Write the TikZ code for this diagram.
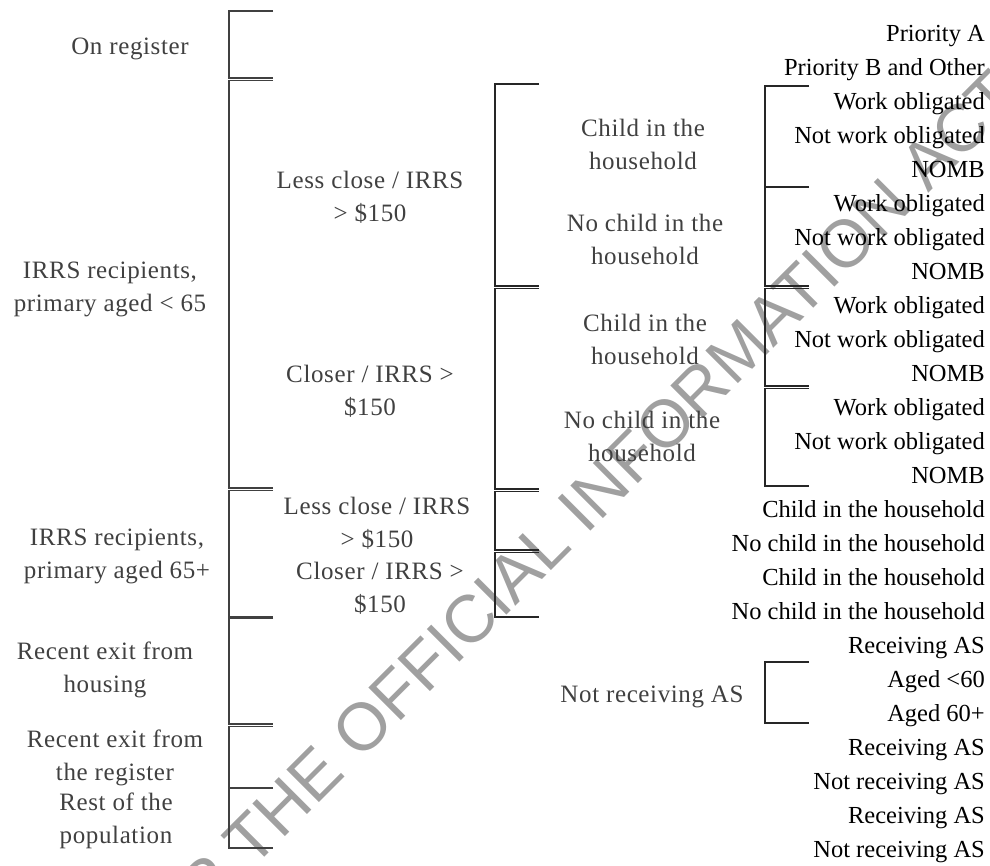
\documentclass[tikz,border=0pt]{standalone}
\usepackage{fontspec}
\setmainfont{Liberation Serif}
\newfontfamily\wmfont{Liberation Sans}
\definecolor{lblgray}{HTML}{404040}
\definecolor{wmgray}{HTML}{A0A0A0}
\newcommand\tbrk[4]{\draw[#4] (#1+44,#2) -- (#1,#2) -- (#1,#3) -- (#1+44,#3);}
\begin{document}
\begin{tikzpicture}[x=1pt,y=-1pt,
  txt/.style={font=\fontsize{24.5}{32.5}\selectfont, inner sep=0pt},
  lab/.style={font=\fontsize{25}{33}\selectfont\addfontfeature{LetterSpace=2.5}, inner sep=0pt, text=lblgray, align=center},
  leaf/.style={txt, text=black, anchor=base east},
  brkA/.style={draw=lblgray, line width=1.3pt},
  brkB/.style={draw=black!85, line width=1.3pt},
  wm/.style={font=\wmfont\fontsize{67}{67}\selectfont, text=wmgray, inner sep=0pt}]
\useasboundingbox (0,0) rectangle (990,865);
% watermark
\begin{scope}
\clip (0,0) rectangle (990,865);
\node[wm, rotate=45, anchor=base east] (wm) at (1023,99) {RELEASED UNDER THE OFFICIAL INFORMATION ACT};
\end{scope}
% column 1 brackets
\tbrk{229}{11}{78}{brkA}
\tbrk{229}{80.7}{488}{brkA}
\tbrk{229}{490.7}{616.5}{brkA}
\tbrk{229}{618}{724}{brkA}
\tbrk{229}{726.7}{788}{brkA}
\tbrk{229}{788}{848}{brkA}
% column 2 brackets
\tbrk{495}{84}{286}{brkB}
\tbrk{495}{288.7}{489}{brkB}
\tbrk{495}{491.7}{550}{brkB}
\tbrk{495}{552.7}{617}{brkB}
% column 3 brackets
\tbrk{765}{86}{187}{brkB}
\tbrk{765}{187}{286}{brkB}
\tbrk{765}{288.7}{386}{brkB}
\tbrk{765}{388.7}{486}{brkB}
\tbrk{765}{662}{723}{brkB}
% column 1 labels
\node[lab] (l1) at (130,49) {On register};
\node[lab] (l2) at (110,289) {IRRS recipients,\\primary aged < 65};
\node[lab] (l3) at (117,556) {IRRS recipients,\\primary aged 65+};
\node[lab] (l4) at (105,670) {Recent exit from\\housing};
\node[lab] (l5) at (115,758) {Recent exit from\\the register};
\node[lab] (l6) at (116,821) {Rest of the\\population};
% column 2 labels
\node[lab] (m1) at (370,197) {Less close / IRRS\\> \$150};
\node[lab] (m2) at (370,391) {Closer / IRRS >\\\$150};
\node[lab] (m3) at (377,523) {Less close / IRRS\\> \$150};
\node[lab] (m4) at (380,588) {Closer / IRRS >\\\$150};
% column 3 labels
\node[lab] (n1) at (643,144) {Child in the\\household};
\node[lab] (n2) at (645,239) {No child in the\\household};
\node[lab] (n3) at (645,339) {Child in the\\household};
\node[lab] (n4) at (642,436) {No child in the\\household};
\node[lab] (n5) at (652,697) {Not receiving AS};
% leaves
\foreach \t [count=\i from 0] in {Priority A, Priority B and Other,
  Work obligated, Not work obligated, NOMB,
  Work obligated, Not work obligated, NOMB,
  Work obligated, Not work obligated, NOMB,
  Work obligated, Not work obligated, NOMB,
  Child in the household, No child in the household,
  Child in the household, No child in the household,
  Receiving AS, Aged <60, Aged 60+,
  Receiving AS, Not receiving AS, Receiving AS, Not receiving AS}
  \node[leaf] (r\i) at (985,41+34*\i) {\t};
\end{tikzpicture}
\end{document}
